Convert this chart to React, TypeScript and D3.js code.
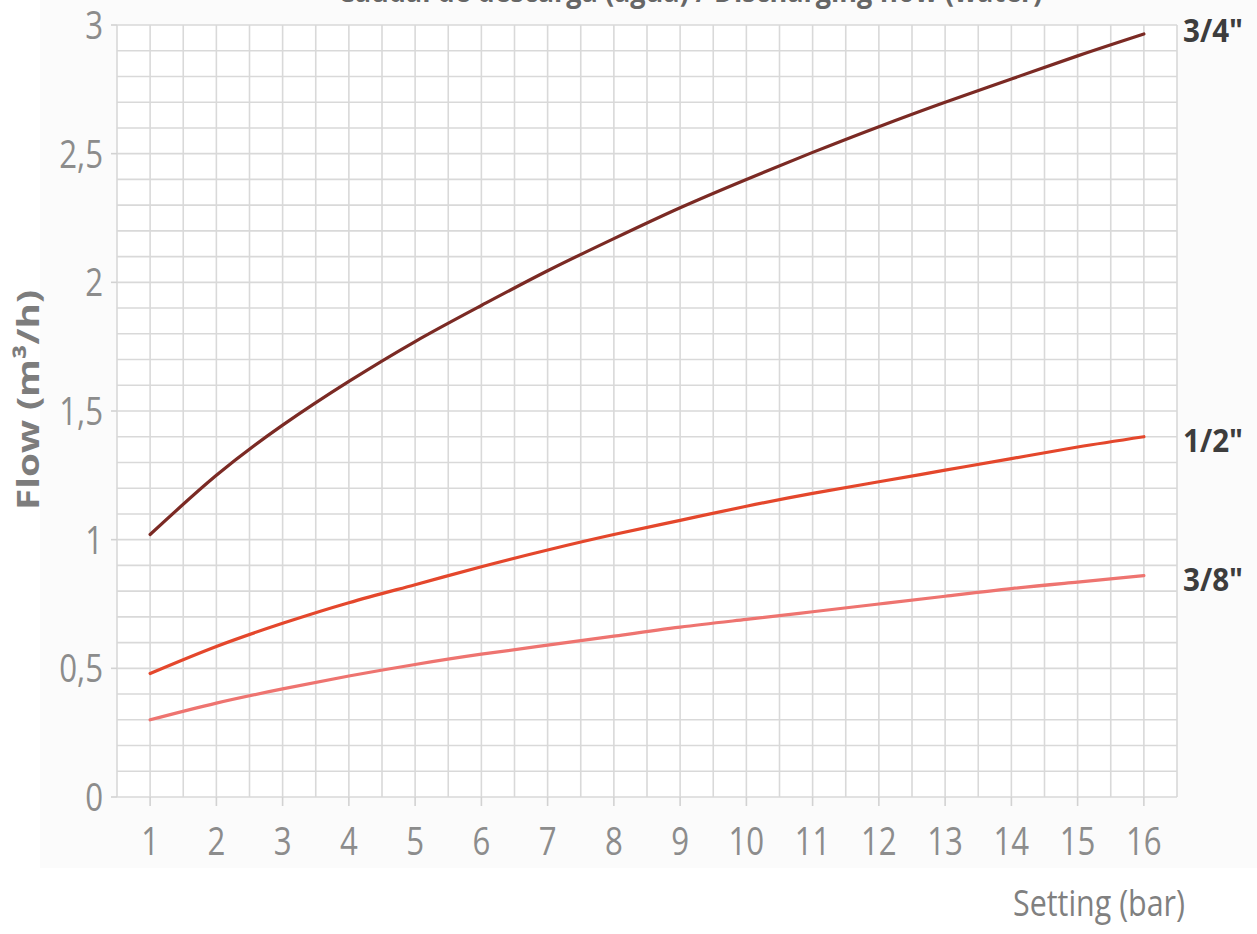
import React from "react";
import * as d3 from "d3";

const settings = [1, 2, 3, 4, 5, 6, 7, 8, 9, 10, 11, 12, 13, 14, 15, 16];
const flow34 = [1.02, 1.25, 1.445, 1.615, 1.77, 1.91, 2.045, 2.17, 2.29, 2.4, 2.505, 2.605, 2.7, 2.79, 2.88, 2.965];
const flow12 = [0.48, 0.585, 0.675, 0.755, 0.825, 0.895, 0.96, 1.02, 1.075, 1.13, 1.18, 1.225, 1.27, 1.315, 1.36, 1.4];
const flow38 = [0.3, 0.365, 0.42, 0.47, 0.515, 0.555, 0.59, 0.625, 0.66, 0.69, 0.72, 0.75, 0.78, 0.81, 0.835, 0.86];
const seriesNames = ['3/4"', '1/2"', '3/8"'];
const seriesColors = ["#7b2a24", "#e4472c", "#ee7470"];
const yTickLabels = ["0", "0,5", "1", "1,5", "2", "2,5", "3"];
const yTickValues = [0, 0.5, 1, 1.5, 2, 2.5, 3];

const W = 1257;
const H = 934;
const left = 117, right = 1177, top = 25, bottom = 797;
const labelDy = [8, 15, 15];

export default function App() {
  const x = d3.scaleLinear().domain([0.5, 16.5]).range([left, right]);
  const y = d3.scaleLinear().domain([0, 3]).range([bottom, top]);
  const line = d3
    .line<[number, number]>()
    .x((d) => x(d[0]))
    .y((d) => y(d[1]))
    .curve(d3.curveNatural);
  const series = [flow34, flow12, flow38];

  const vGrid = d3.range(0, 33).map((i) => 0.5 + i * 0.5);
  const hGrid = d3.range(0, 31).map((i) => +(i * 0.1).toFixed(1));
  const tickFont = "'Open Sans', 'DejaVu Sans', sans-serif";

  return (
    <svg
      width={W}
      height={H}
      viewBox={`0 0 ${W} ${H}`}
      style={{ position: "absolute", left: 0, top: 0, background: "#fff" }}
    >
      <rect x={40} y={0} width={W - 40} height={868} fill="#fbfbfb" />
      {/* title, cut off at top as in the reference */}
      <text
        x={690}
        y={2}
        textAnchor="middle"
        fontFamily={tickFont}
        fontWeight="bold"
        fontSize={30}
        fill="#666"
        textLength={705}
        lengthAdjust="spacingAndGlyphs"
      >
        Caudal de descarga (agua) / Discharging flow (water)
      </text>
      <rect x={left} y={top} width={right - left} height={bottom - top} fill="#fff" />
      {hGrid.map((v) => (
        <line key={"h" + v} x1={left} x2={right} y1={y(v)} y2={y(v)} stroke="#d9d9d9" strokeWidth={1.6} />
      ))}
      {vGrid.map((v) => (
        <line key={"v" + v} x1={x(v)} x2={x(v)} y1={top} y2={bottom} stroke="#d9d9d9" strokeWidth={1.6} />
      ))}
      {settings.map((s) => (
        <line key={"xt" + s} x1={x(s)} x2={x(s)} y1={bottom} y2={bottom + 9} stroke="#d2d2d2" strokeWidth={1.6} />
      ))}
      {yTickValues.map((v) => (
        <line key={"yt" + v} x1={left - 6} x2={left} y1={y(v)} y2={y(v)} stroke="#d2d2d2" strokeWidth={1.6} />
      ))}
      {yTickValues.map((v, i) => (
        <text
          key={"yl" + v}
          x={0}
          y={0}
          transform={`translate(${left - 14},${y(v) + 14}) scale(0.8,1)`}
          textAnchor="end"
          fontFamily={tickFont}
          fontSize={39}
          fill="#8c8c8c"
        >
          {yTickLabels[i]}
        </text>
      ))}
      {settings.map((s) => (
        <text
          key={"xl" + s}
          x={0}
          y={0}
          transform={`translate(${x(s)},${855}) scale(0.8,1)`}
          textAnchor="middle"
          fontFamily={tickFont}
          fontSize={39}
          fill="#8c8c8c"
        >
          {s}
        </text>
      ))}
      {series.map((vals, i) => (
        <path
          key={"s" + i}
          d={line(settings.map((s, j) => [s, vals[j]] as [number, number])) || ""}
          fill="none"
          stroke={seriesColors[i]}
          strokeWidth={3.2}
          strokeLinecap="round"
        />
      ))}
      {series.map((vals, i) => (
        <text
          key={"sl" + i}
          x={1183}
          y={y(vals[vals.length - 1]) + labelDy[i]}
          fontFamily={tickFont}
          fontWeight="bold"
          fontSize={33}
          fill="#3d3d3d"
          textLength={60}
          lengthAdjust="spacingAndGlyphs"
        >
          {seriesNames[i]}
        </text>
      ))}
      <text
        x={1013}
        y={916}
        fontFamily={tickFont}
        fontSize={36}
        fill="#808080"
        textLength={172}
        lengthAdjust="spacingAndGlyphs"
      >
        Setting (bar)
      </text>
      <text
        transform={`translate(39,400) rotate(-90)`}
        textAnchor="middle"
        fontFamily={tickFont}
        fontWeight="bold"
        fontSize={31}
        fill="#7d7d7d"
        textLength={220}
        lengthAdjust="spacingAndGlyphs"
      >
        Flow (m³/h)
      </text>
    </svg>
  );
}
